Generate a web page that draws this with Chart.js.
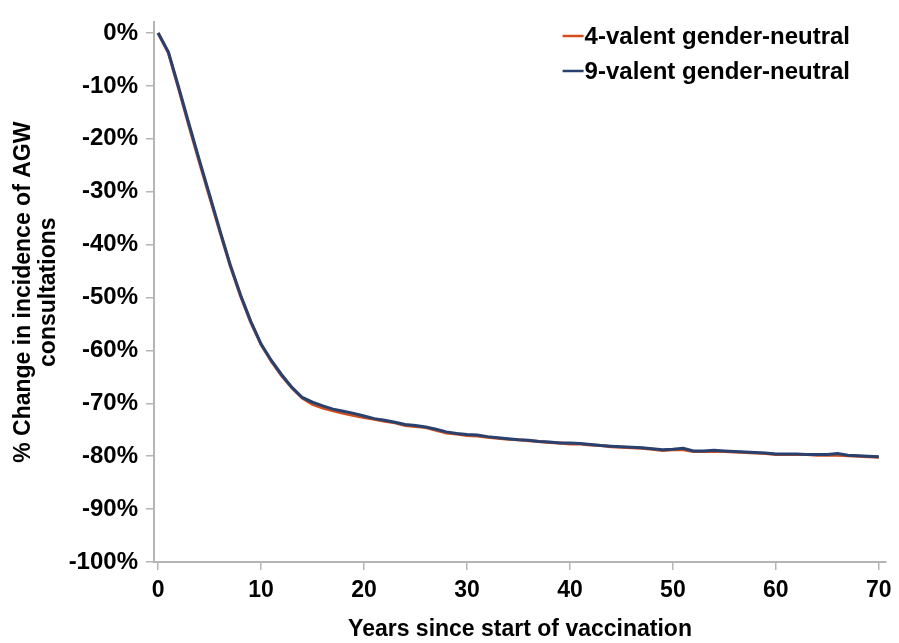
<!DOCTYPE html>
<html>
<head>
<meta charset="utf-8">
<script src="https://cdn.jsdelivr.net/npm/chart.js@4.4.0/dist/chart.umd.min.js"></script>
<style>
  html, body { margin: 0; padding: 0; background: #ffffff; }
  #wrap { width: 899px; height: 643px; }
</style>
</head>
<body>
<div id="wrap"><canvas id="c" width="899" height="643"></canvas></div>
<script>
const years = Array.from({length: 71}, (_, i) => i);

const series4valent = [
  0, -3.8, -10.6, -17.6, -24.4, -31.0, -37.6, -44.0, -49.7, -54.7,
  -58.9, -62.1, -64.8, -67.1, -69.0, -70.2, -70.9, -71.4, -71.9, -72.3,
  -72.7, -73.0, -73.4, -73.7, -74.2, -74.4, -74.6, -75.1, -75.6, -75.8,
  -76.1, -76.2, -76.4, -76.6, -76.8, -76.9, -77.1, -77.2, -77.4, -77.5,
  -77.7, -77.7, -77.9, -78.0, -78.2, -78.3, -78.4, -78.5, -78.7, -78.9,
  -78.8, -78.8, -79.1, -79.1, -79.1, -79.1, -79.2, -79.3, -79.4, -79.5,
  -79.7, -79.7, -79.7, -79.7, -79.8, -79.8, -79.8, -79.9, -80.0, -80.1,
  -80.2
];

const series9valent = [
  0, -3.6, -10.3, -17.2, -24.0, -30.6, -37.3, -43.8, -49.5, -54.5,
  -58.8, -61.9, -64.6, -67.0, -68.9, -69.8, -70.5, -71.1, -71.5, -71.9,
  -72.4, -72.9, -73.2, -73.6, -74.0, -74.2, -74.5, -74.9, -75.4, -75.7,
  -75.9, -76.0, -76.3, -76.5, -76.7, -76.9, -77.0, -77.2, -77.3, -77.5,
  -77.5, -77.6, -77.8, -78.0, -78.1, -78.2, -78.3, -78.4, -78.6, -78.8,
  -78.7, -78.5, -79.0, -79.0, -78.9, -79.0, -79.1, -79.2, -79.3, -79.4,
  -79.6, -79.6, -79.6, -79.7, -79.7, -79.7, -79.5, -79.8, -79.9, -80.0,
  -80.1
];

const seriesLabels = ['4-valent gender-neutral', '9-valent gender-neutral'];
const seriesColors = ['#D34D1D', '#28416E'];
const xTicks = [0, 10, 20, 30, 40, 50, 60, 70];
const yTicks = [0, -10, -20, -30, -40, -50, -60, -70, -80, -90, -100];

const FONT = "'Liberation Sans', Arial, Helvetica, sans-serif";
const AXIS_GRAY = '#b5b5b5';

const legendPlugin = {
  id: 'insideLegend',
  afterDraw(chart) {
    const ctx = chart.ctx;
    ctx.save();
    ctx.font = "bold 24px " + FONT;
    ctx.textBaseline = 'middle';
    ctx.textAlign = 'left';
    const textRight = 850, lineLen = 21, y0 = 36, gap = 35;
    const maxW = Math.max(...chart.data.datasets.map(d => ctx.measureText(d.label).width));
    const textX = textRight - maxW;
    chart.data.datasets.forEach((ds, i) => {
      const y = y0 + i * gap;
      ctx.strokeStyle = ds.borderColor;
      ctx.lineWidth = 2.5;
      ctx.beginPath();
      ctx.moveTo(textX - lineLen - 1, y);
      ctx.lineTo(textX - 1, y);
      ctx.stroke();
      ctx.fillStyle = '#000000';
      ctx.fillText(ds.label, textX, y + 1);
    });
    ctx.restore();
  }
};

const toPoints = (vals) => years.map((x, i) => ({x: x, y: vals[i]}));

new Chart(document.getElementById('c'), {
  type: 'line',
  data: {
    datasets: [
      {
        label: seriesLabels[0],
        data: toPoints(series4valent),
        borderColor: seriesColors[0],
        backgroundColor: seriesColors[0],
        borderWidth: 3,
        pointRadius: 0,
        tension: 0,
        order: 1
      },
      {
        label: seriesLabels[1],
        data: toPoints(series9valent),
        borderColor: seriesColors[1],
        backgroundColor: seriesColors[1],
        borderWidth: 3,
        pointRadius: 0,
        tension: 0,
        order: 0
      }
    ]
  },
  options: {
    responsive: false,
    animation: false,
    devicePixelRatio: 1,
    layout: { padding: { left: 0, right: 13, top: 10, bottom: 0 } },
    plugins: {
      legend: { display: false },
      tooltip: { enabled: false },
      title: { display: false }
    },
    scales: {
      x: {
        type: 'linear',
        min: -0.4,
        max: 70.7,
        afterBuildTicks: (s) => { s.ticks = xTicks.map(v => ({value: v})); },
        afterFit: (s) => { s.height = 81; },
        border: { display: true, color: AXIS_GRAY, width: 2 },
        grid: { drawOnChartArea: false, drawTicks: true, tickLength: 8, color: AXIS_GRAY, lineWidth: 1.5 },
        ticks: {
          padding: 7,
          color: '#000000',
          font: { family: FONT, size: 23, weight: 'bold' },
          maxRotation: 0,
          autoSkip: false,
          callback: (v) => String(v)
        },
        title: {
          display: true,
          text: 'Years since start of vaccination',
          color: '#000000',
          font: { family: FONT, size: 23, weight: 'bold', lineHeight: 1.2 },
          padding: { top: 0, bottom: 0 }
        }
      },
      y: {
        type: 'linear',
        min: -100,
        max: 2,
        afterBuildTicks: (s) => { s.ticks = yTicks.map(v => ({value: v})); },
        afterFit: (s) => { s.width = 154; },
        border: { display: true, color: AXIS_GRAY, width: 2 },
        grid: { drawOnChartArea: false, drawTicks: true, tickLength: 8, color: AXIS_GRAY, lineWidth: 1.5 },
        ticks: {
          padding: 8,
          color: '#000000',
          font: { family: FONT, size: 24, weight: 'bold' },
          autoSkip: false,
          callback: (v) => v + '%'
        },
        title: {
          display: true,
          text: ['% Change in incidence of AGW', 'consultations'],
          color: '#000000',
          font: { family: FONT, size: 23, weight: 'bold', lineHeight: 1.1 },
          padding: { top: 11, bottom: 0 }
        }
      }
    }
  },
  plugins: [legendPlugin]
});
</script>
</body>
</html>
